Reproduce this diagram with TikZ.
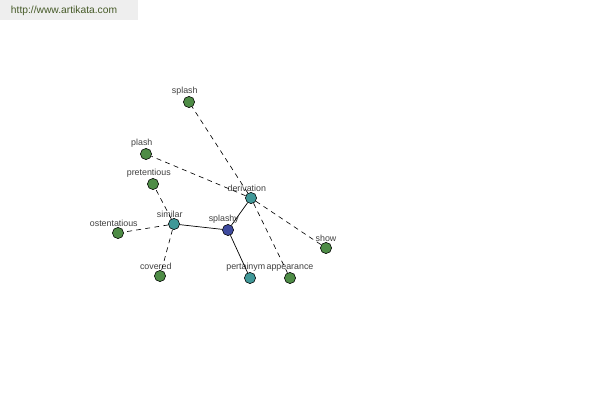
\documentclass[tikz,border=0pt]{standalone}
\usepackage{fontspec}
\setmainfont{Liberation Sans}
\definecolor{hubblue}{RGB}{62,74,158}
\definecolor{midteal}{RGB}{64,152,152}
\definecolor{leafgreen}{RGB}{78,140,70}
\definecolor{headgray}{RGB}{238,238,238}
\definecolor{headtext}{RGB}{70,90,40}
\usetikzlibrary{positioning}

\begin{document}
\begin{tikzpicture}[x=0.025cm,y=-0.025cm,
  dot/.style={draw=black,circle,inner sep=0pt,minimum size=0.28cm,line width=0.4pt},
  lbl/.style={font=\fontsize{6.3}{7}\selectfont,text=black!75,label distance=-3pt},
  w/.style={dot,label={[lbl,xshift=-3pt]above:#1}},
  wc/.style={dot,label={[lbl]above:#1}},
  hub/.style={w=#1,fill=hubblue},
  rel/.style={w=#1,fill=midteal},
  leaf/.style={w=#1,fill=leafgreen},
  leafc/.style={wc=#1,fill=leafgreen},
  dsh/.style={dash pattern=on 3.5pt off 3pt,line width=0.45pt}]
  \useasboundingbox (0,0) rectangle (600,400);
  % site header
  \fill[headgray] (0,0) rectangle (138,20);
  \node[font=\fontsize{7.3}{8}\selectfont,text=headtext,anchor=west] (site) at (6,11) {http://www.artikata.com};
  % centre word
  \node[hub=splashy] (splashy) at (228,230) {};
  % relation nodes
  \node[rel=similar]    (similar)    at (174,224) {};
  \node[rel=derivation] (derivation) at (251,198) {};
  \node[rel=pertainym]  (pertainym)  at (250,278) {};
  % words
  \node[leaf=splash]       (splash)       at (189,102) {};
  \node[leaf=plash]        (plash)        at (146,154) {};
  \node[leaf=pretentious]  (pretentious)  at (153,184) {};
  \node[leaf=ostentatious] (ostentatious) at (118,233) {};
  \node[leaf=covered]      (covered)      at (160,276) {};
  \node[leafc=appearance]  (appearance)   at (290,278) {};
  \node[leafc=show]        (show)         at (326,248) {};
  % connectors
  \foreach \t in {similar,derivation,pertainym}
    \draw[line width=0.5pt] (splashy) -- (\t);
  \foreach \t in {splash,plash,show,appearance}
    \draw[dsh] (derivation) -- (\t);
  \foreach \t in {pretentious,ostentatious,covered}
    \draw[dsh] (similar) -- (\t);
\end{tikzpicture}
\end{document}
